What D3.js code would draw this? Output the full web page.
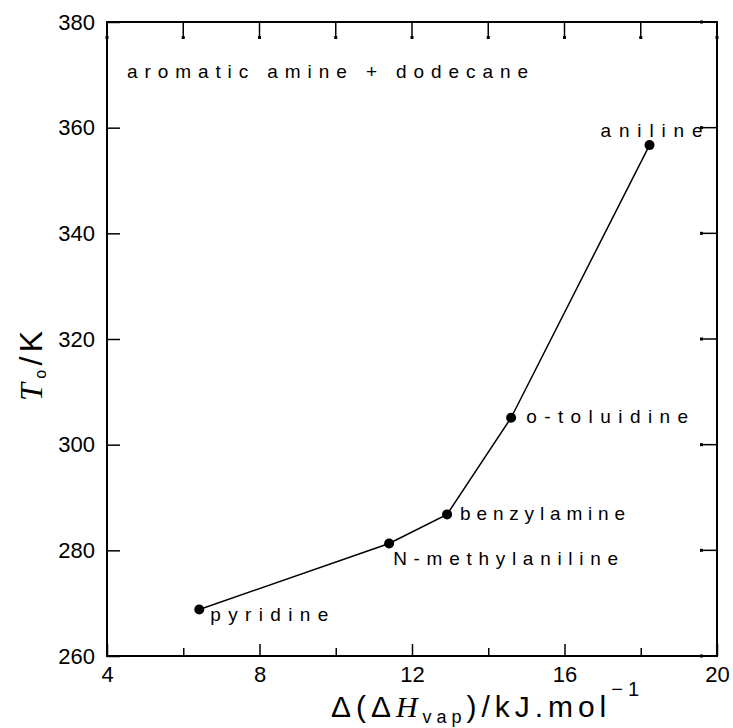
<!DOCTYPE html>
<html>
<head>
<meta charset="utf-8">
<script src="https://cdn.jsdelivr.net/npm/d3@7"></script>
<style>
  body { margin: 0; background: #fff; }
  svg { display: block; }
</style>
</head>
<body>
<div id="chart"></div>
<script>
// data
const amines = ['pyridine', 'N-methylaniline', 'benzylamine', 'o-toluidine', 'aniline'];
const dHvap = [6.42, 11.40, 12.92, 14.60, 18.23];
const tempK = [268.8, 281.3, 286.8, 305.1, 356.7];
const xTicks = [4, 8, 12, 16, 20];
const xMinorTicks = [6, 10, 14, 18];
const yTicks = [260, 280, 300, 320, 340, 360, 380];
const systemLabel = 'aromatic amine + dodecane';

// label placement (offset from point, anchor, width)
const labelPos = [
  { dx: 11, dy: 11, anchor: 'start', w: 118 },
  { dx: 4, dy: 22, anchor: 'start', w: 225 },
  { dx: 13, dy: 6, anchor: 'start', w: 165 },
  { dx: 15, dy: 5, anchor: 'start', w: 162 },
  { dx: 53, dy: -8, anchor: 'end', w: 102 }
];

const W = 733, H = 728;
const margin = { top: 22, right: 16, bottom: 72, left: 107 };
const width = W - margin.left - margin.right;
const height = H - margin.top - margin.bottom;

const svg = d3.select('#chart').append('svg')
  .attr('width', W)
  .attr('height', H);

const g = svg.append('g')
  .attr('transform', `translate(${margin.left},${margin.top})`);

const x = d3.scaleLinear().domain([4, 20]).range([0, width]);
const y = d3.scaleLinear().domain([260, 380]).range([height, 0]);

const sans = '"Liberation Sans", Arial, sans-serif';
const serif = '"Liberation Serif", "Times New Roman", serif';

// bottom axis, major ticks with labels
g.append('g')
  .attr('transform', `translate(0,${height})`)
  .call(d3.axisBottom(x).tickValues(xTicks).tickSize(-12).tickSizeOuter(0)
    .tickPadding(10).tickFormat(d3.format('d')));
g.append('g')
  .attr('transform', `translate(0,${height})`)
  .call(d3.axisBottom(x).tickValues(xMinorTicks).tickSize(-8).tickSizeOuter(0)
    .tickFormat(''));

// left axis
g.append('g')
  .call(d3.axisLeft(y).tickValues(yTicks).tickSize(-13).tickSizeOuter(0)
    .tickPadding(12).tickFormat(d3.format('d')));

g.selectAll('.domain').remove();
g.selectAll('.tick line').attr('stroke', '#000').attr('stroke-width', 1.5);
g.selectAll('.tick text')
  .attr('fill', '#000')
  .style('font-family', sans)
  .style('font-size', '22px');

// top ticks with end dots
const topTicks = d3.range(4, 20.1, 2);
g.selectAll('.ttick').data(topTicks).enter().append('line')
  .attr('x1', d => x(d)).attr('x2', d => x(d))
  .attr('y1', 0).attr('y2', 15)
  .attr('stroke', '#000').attr('stroke-width', 1.5);
g.selectAll('.tdot').data(topTicks).enter().append('rect')
  .attr('x', d => x(d) - 1.5).attr('y', 14)
  .attr('width', 3).attr('height', 3).attr('fill', '#000');

// right ticks with end dots
g.selectAll('.rtick').data(yTicks).enter().append('line')
  .attr('x1', width).attr('x2', width - 15)
  .attr('y1', d => y(d)).attr('y2', d => y(d))
  .attr('stroke', '#000').attr('stroke-width', 1.5);
g.selectAll('.rdot').data(yTicks).enter().append('rect')
  .attr('x', width - 17).attr('y', d => y(d) - 1.5)
  .attr('width', 3).attr('height', 3).attr('fill', '#000');

// frame
g.append('rect')
  .attr('width', width).attr('height', height)
  .attr('fill', 'none').attr('stroke', '#000').attr('stroke-width', 2);

// data line and markers
const pts = amines.map((name, i) => ({ name, x: dHvap[i], y: tempK[i], pos: labelPos[i] }));

g.append('path')
  .datum(pts)
  .attr('fill', 'none')
  .attr('stroke', '#000')
  .attr('stroke-width', 1.5)
  .attr('d', d3.line().x(d => x(d.x)).y(d => y(d.y)));

g.selectAll('.pt').data(pts).enter().append('circle')
  .attr('cx', d => x(d.x)).attr('cy', d => y(d.y))
  .attr('r', 5).attr('fill', '#000');

g.selectAll('.lbl').data(pts).enter().append('text')
  .attr('x', d => x(d.x) + d.pos.dx)
  .attr('y', d => y(d.y) + d.pos.dy)
  .attr('text-anchor', d => d.pos.anchor)
  .attr('textLength', d => d.pos.w)
  .attr('lengthAdjust', 'spacing')
  .style('font-family', sans)
  .style('font-size', '19px')
  .text(d => d.name);

// system label
g.append('text')
  .attr('x', 20).attr('y', 56)
  .attr('textLength', 401)
  .attr('lengthAdjust', 'spacing')
  .style('font-family', sans)
  .style('font-size', '19px')
  .text(systemLabel);

// x axis title
const xt = svg.append('text')
  .attr('x', 331).attr('y', 717)
  .attr('textLength', 308)
  .attr('lengthAdjust', 'spacing')
  .style('font-family', sans)
  .style('font-size', '30px');
xt.append('tspan').text('\u0394(\u0394');
xt.append('tspan').style('font-family', serif).style('font-style', 'italic').text('H');
xt.append('tspan').attr('dy', 6).style('font-size', '18px').text('vap');
xt.append('tspan').attr('dy', -6).text(')/kJ.mol');
xt.append('tspan').attr('dy', -21).style('font-size', '20px').text('\u22121');

// y axis title
const yt = svg.append('text')
  .attr('transform', 'translate(42,401) rotate(-90)')
  .attr('textLength', 70)
  .attr('lengthAdjust', 'spacing')
  .style('font-family', sans)
  .style('font-size', '32px');
yt.append('tspan').style('font-family', serif).style('font-style', 'italic').text('T');
yt.append('tspan').attr('dy', 4).style('font-size', '16px').text('o');
yt.append('tspan').attr('dy', -4).text('/K');
</script>
</body>
</html>
